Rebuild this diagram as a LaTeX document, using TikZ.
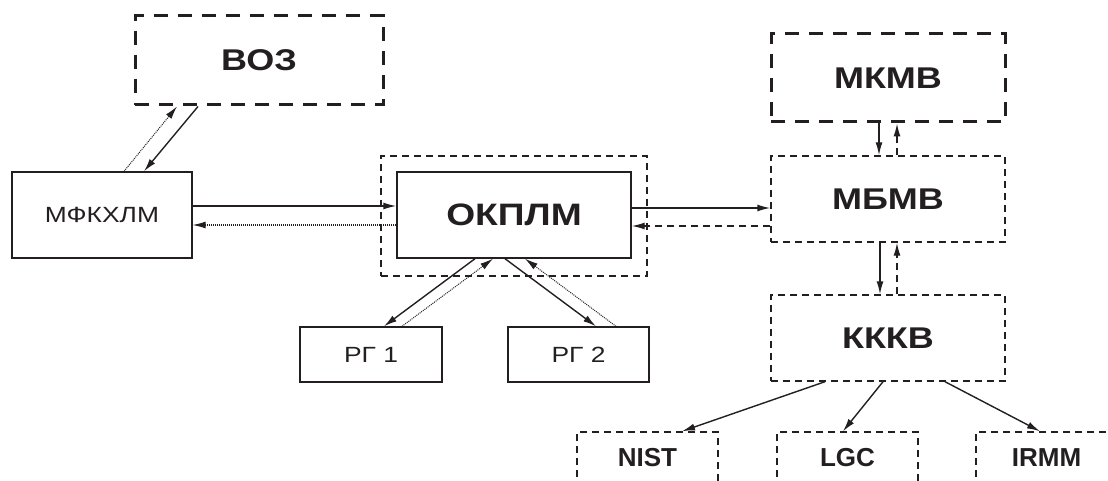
\documentclass[tikz,border=0pt]{standalone}
\usepackage{fontspec}
\setmainfont{Liberation Sans}
\newfontfamily\widefont[FakeStretch=1.2]{Liberation Sans}
\usetikzlibrary{arrows.meta}
\definecolor{ink}{HTML}{231F20}
\tikzset{
  every node/.style={inner sep=0pt, text=ink},
  solidbox/.style={draw=ink, line width=1.4pt, rectangle},
  thinbox/.style={draw=ink, line width=1.4pt, rectangle, dash pattern=on 7pt off 5pt},
  heavybox/.style={draw=ink, line width=3pt, rectangle, dash pattern=on 14pt off 10pt},
  bigtext/.style={font=\widefont\bfseries\fontsize{30}{30}\selectfont},
  midtext/.style={font=\bfseries\fontsize{26}{26}\selectfont},
  plaintext/.style={font=\widefont\fontsize{22}{22}\selectfont},
  flow/.style={draw=ink, line width=1.4pt, -{Latex[length=13pt,width=7pt]}},
  dotflow/.style={flow, line width=1pt, dash pattern=on 1pt off 1pt},
  dashflow/.style={flow, dash pattern=on 7pt off 5pt},
}
\begin{document}
\begin{tikzpicture}[x=1pt,y=-1pt]
\useasboundingbox (0,0) rectangle (1108,481);
\clip (0,0) rectangle (1108,481);

% upper-level bodies
\node[heavybox, bigtext, minimum width=248pt, minimum height=89pt] (voz) at (259,60.5) {ВОЗ};
\node[heavybox, bigtext, minimum width=234pt, minimum height=88pt] (mkmv) at (888,78) {МКМВ};

% central chain
\node[solidbox, plaintext, minimum width=180pt, minimum height=86pt] (mfk) at (102,215) {МФКХЛМ};
\node[thinbox, minimum width=266pt, minimum height=120pt] (frame) at (514,216) {};
\node[solidbox, bigtext, font=\widefont\bfseries\fontsize{31}{31}\selectfont, minimum width=234pt, minimum height=86pt] (okplm) at (514,215) {ОКПЛМ};
\node[thinbox, bigtext, minimum width=234pt, minimum height=86pt] (mbmv) at (888,199) {МБМВ};
\node[thinbox, bigtext, minimum width=234pt, minimum height=86pt] (kkkv) at (888,338) {КККВ};

% working groups
\node[solidbox, plaintext, minimum width=142pt, minimum height=55pt] (rg1) at (371,354.5) {РГ 1};
\node[solidbox, plaintext, minimum width=141pt, minimum height=55pt] (rg2) at (578.5,354.5) {РГ 2};

% reference laboratories
\node[thinbox, midtext, minimum width=141pt, minimum height=52pt] (nist) at (647.5,458) {NIST};
\node[thinbox, midtext, minimum width=141pt, minimum height=52pt] (lgc) at (847.5,458) {LGC};
\node[thinbox, midtext, minimum width=141pt, minimum height=52pt] (irmm) at (1046.5,458) {IRMM};

% ВОЗ <-> МФКХЛМ
\draw[dotflow] ([xshift=22pt]mfk.north) -- ([xshift=-82pt]voz.south);
\draw[flow] ([xshift=-61pt]voz.south) -- ([xshift=42pt]mfk.north);

% МФКХЛМ <-> ОКПЛМ
\draw[flow] ([yshift=9pt]mfk.east) -- ([yshift=9pt]okplm.west);
\draw[dotflow] ([yshift=-10pt]okplm.west) -- ([yshift=-10pt]mfk.east);

% ОКПЛМ <-> МБМВ
\draw[flow] ([yshift=7pt]okplm.east) -- ([yshift=-9pt]mbmv.west);
\draw[dashflow] ([yshift=-27pt]mbmv.west) -- ([yshift=-11pt]okplm.east);

% ОКПЛМ <-> working groups
\draw[flow] ([xshift=-39pt]okplm.south) -- ([xshift=13pt]rg1.north);
\draw[dotflow] ([xshift=31pt]rg1.north) -- ([xshift=-21pt]okplm.south);
\draw[flow] ([xshift=-9pt]okplm.south) -- ([xshift=17.5pt]rg2.north);
\draw[dotflow] ([xshift=37.5pt]rg2.north) -- ([xshift=11pt]okplm.south);

% МКМВ <-> МБМВ
\draw[flow] ([xshift=-9pt]mkmv.south) -- ([xshift=-9pt]mbmv.north);
\draw[dashflow] ([xshift=9pt]mbmv.north) -- ([xshift=9pt]mkmv.south);

% МБМВ <-> КККВ
\draw[flow] ([xshift=-8pt]mbmv.south) -- ([xshift=-8pt]kkkv.north);
\draw[dashflow] ([xshift=9pt]kkkv.north) -- ([xshift=9pt]mbmv.south);

% КККВ -> laboratories
\draw[flow] ([xshift=-63pt]kkkv.south) -- ([xshift=34.5pt]nist.north);
\draw[flow] ([xshift=-5pt]kkkv.south) -- ([xshift=-4.5pt]lgc.north);
\draw[flow] ([xshift=57pt]kkkv.south) -- ([xshift=-6.5pt]irmm.north);
\end{tikzpicture}
\end{document}
